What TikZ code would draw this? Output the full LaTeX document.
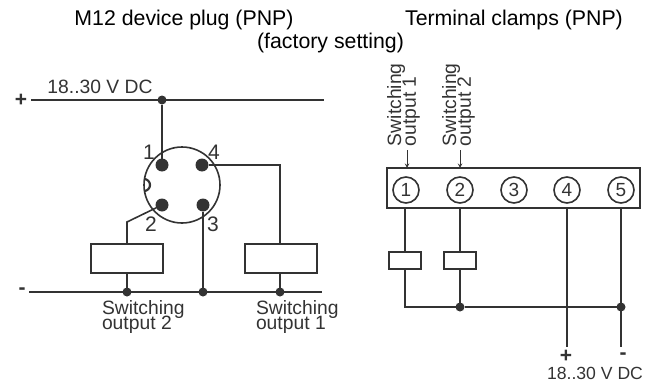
\documentclass[tikz,border=0pt]{standalone}
\usepackage{fontspec}
\setmainfont{Liberation Sans}
\usetikzlibrary{positioning}
\usetikzlibrary{calc}
\usetikzlibrary{arrows}

\definecolor{inkgray}{HTML}{333333}

\begin{document}
\begin{tikzpicture}
  [x=1pt, y=-1pt, line width=1.6pt, color=inkgray, >=stealth,
   every node/.style = {inner sep=0pt, outer sep=0pt, text=inkgray,
     font=\fontsize{19.3}{15}\selectfont},
   title/.style = {font=\fontsize{21.3}{24}\selectfont, text=black},
   polarity/.style = {font=\fontsize{21}{21}\bfseries\selectfont},
   number/.style = {font=\fontsize{21}{21}\selectfont},
   junction/.style = {circle, fill=inkgray, minimum size=9pt},
   pin/.style = {circle, fill=inkgray, minimum size=13pt},
   relay/.style = {rectangle, draw, fill=white, minimum width=72pt, minimum height=29pt},
   smallrelay/.style = {rectangle, draw, fill=white, minimum width=32pt, minimum height=17pt},
   clamp/.style = {circle, draw, minimum size=26pt, font=\fontsize{19}{19}\selectfont},
   outlabel/.style = {align=left, anchor=north west}]
  \useasboundingbox (0,0) rectangle (657,383);

  % titles
  \node (titleplug) [title] at (184,20) {M12 device plug (PNP)};
  \node (titleclamps) [title] at (514,20) {Terminal clamps (PNP)};
  \node (titlefactory) [title] at (330.5,43) {(factory setting)};

  % M12 plug side
  \node (plus) [polarity] at (21,100) {+};
  \node (minus) [polarity] at (22,291) {-};
  \node (supply) at (100,87) {18..30 V DC};
  \coordinate (plusleft) at (31,100);
  \coordinate (plusright) at (324,100);
  \coordinate (minusleft) at (29,292);
  \coordinate (minusright) at (322,292);
  \node (jtop) [junction] at (162,100) {};
  \node (plug) [circle, draw, minimum size=76pt] at (182,185) {};
  \node (pin1) [pin] at (162,165) {};
  \node (pin4) [pin] at (202,165) {};
  \node (pin2) [pin] at (162,205) {};
  \node (pin3) [pin] at (203,205) {};
  \node (num1) [number] at (149,152) {1};
  \node (num4) [number] at (214,152) {4};
  \node (num2) [number] at (151,224) {2};
  \node (num3) [number] at (213,224) {3};
  \node (relay2) [relay] at (127,258.5) {};
  \node (relay1) [relay] at (281,258.5) {};
  \node (jrel2) [junction] at (127,292) {};
  \node (jpin3) [junction] at (203,292) {};
  \node (jrel1) [junction] at (280,292) {};
  \node (out2) [outlabel] at (102,301) {Switching\\[-3.5pt]output 2};
  \node (out1) [outlabel] at (256,301) {Switching\\[-3.5pt]output 1};
  \coordinate (bend2) at (127,222);
  \coordinate (bend4) at (280,164);

  \draw (plusleft) to (plusright);
  \draw (minusleft) to (minusright);
  \draw (jtop) to (pin1);
  \draw (pin2) to (bend2) to (relay2.north -| bend2);
  \draw (pin4) to (pin4 -| bend4) to (relay1.north -| bend4);
  \draw (pin3) to (jpin3);
  \draw (relay2) to (jrel2);
  \draw (relay1.south -| jrel1) to (jrel1);
  \draw [line width=2.2pt] (144,191) arc (90:-90:6);

  % terminal clamp side
  \node (strip) [rectangle, draw, minimum width=253pt, minimum height=40pt] at (513.5,188) {};
  \node (c1) [clamp] at (406,190) {1};
  \node (c2) [clamp] at (460,190) {2};
  \node (c3) [clamp] at (514,190) {3};
  \node (c4) [clamp] at (567,190) {4};
  \node (c5) [clamp] at (621,190) {5};
  \node (sw1) [rotate=90, align=left, anchor=south west] at (420,146) {Switching\\[-3.5pt]output 1};
  \node (sw2) [rotate=90, align=left, anchor=south west] at (475,146) {Switching\\[-3.5pt]output 2};
  \coordinate (arrow1) at (407,150);
  \coordinate (arrow2) at (460,150);
  \node (crel1) [smallrelay] at (405,260.5) {};
  \node (crel2) [smallrelay] at (460,260.5) {};
  \node (jcommon) [junction] at (460,307) {};
  \node (jneg) [junction] at (621,307) {};
  \coordinate (corner) at (405,307);
  \coordinate (end4) at (567,347);
  \coordinate (end5) at (621,347);
  \node (endplus) [polarity] at (566,356) {+};
  \node (endminus) [polarity] at (623,356) {-};
  \node (endsupply) [font=\fontsize{17.6}{18}\selectfont] at (595,373) {18..30 V DC};

  \draw [->, line width=1pt] (arrow1) to (arrow1 |- strip.north);
  \draw [->, line width=1pt] (arrow2) to (arrow2 |- strip.north);
  \draw (strip.south -| crel1) to (crel1);
  \draw (strip.south -| crel2) to (crel2);
  \draw (crel1) to (corner) to (jcommon);
  \draw (crel2) to (jcommon);
  \draw (jcommon) to (jneg);
  \draw (strip.south -| end4) to (end4);
  \draw (strip.south -| end5) to (end5);
\end{tikzpicture}
\end{document}
